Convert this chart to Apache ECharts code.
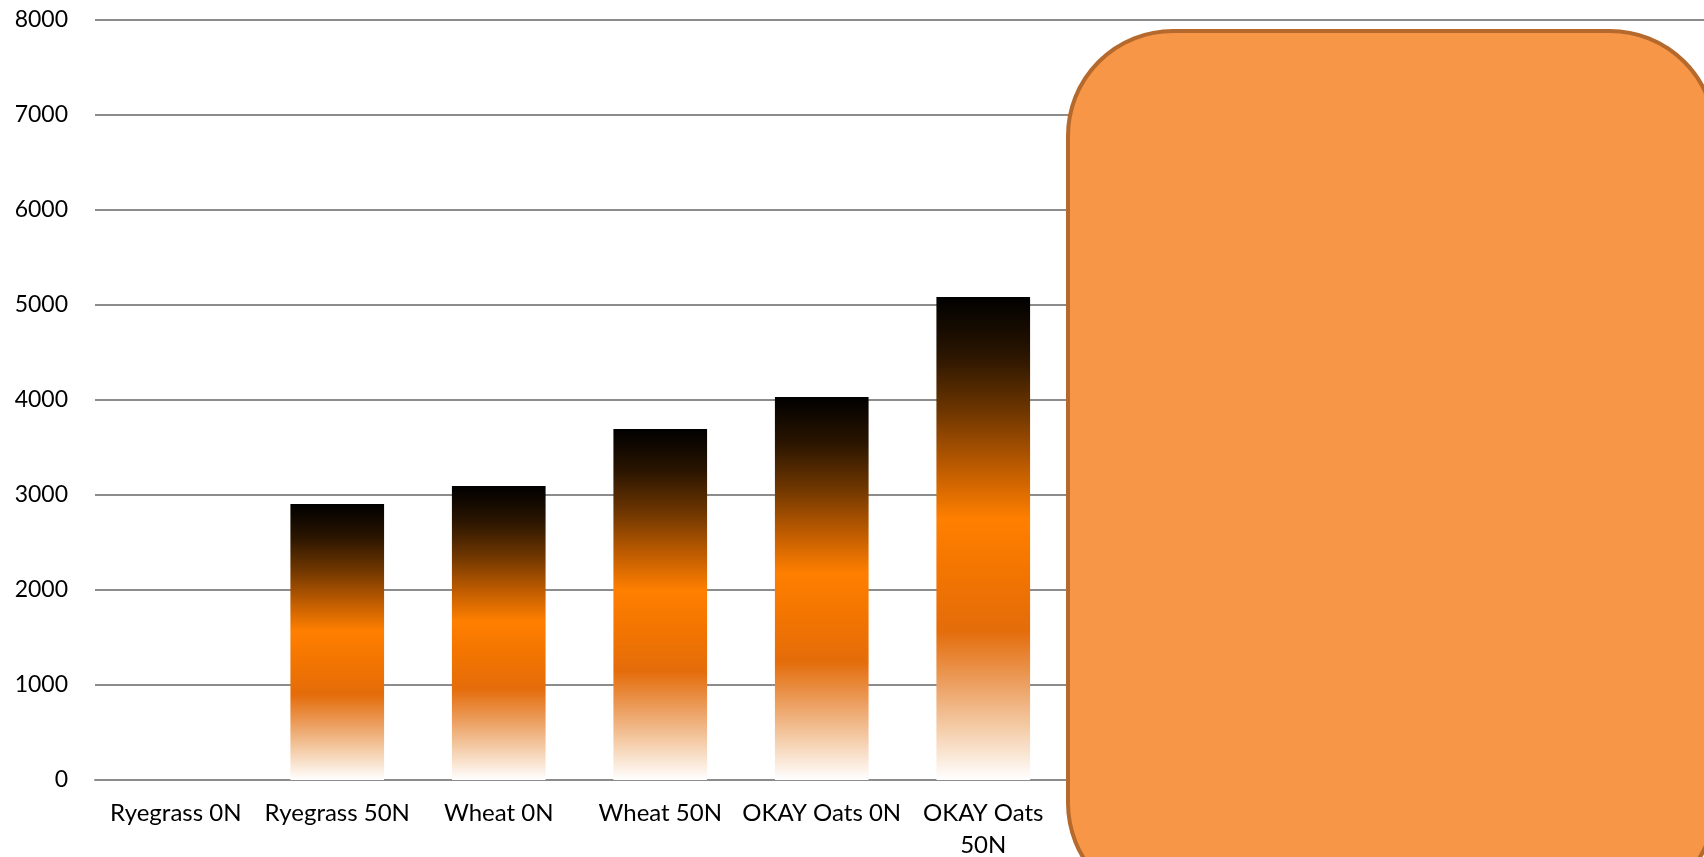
<!DOCTYPE html>
<html>
<head>
<meta charset="utf-8">
<title>Dry matter yield</title>
<script src="https://cdn.jsdelivr.net/npm/echarts@6/dist/echarts.min.js"></script>
<style>
  html, body { margin: 0; padding: 0; background: #ffffff; }
  #chart { width: 1704px; height: 857px; }
</style>
</head>
<body>
<div id="chart"></div>
<script>
// Forage treatments along the bottom axis; the last four slots sit under the callout box
const categories = [
  'Ryegrass 0N', 'Ryegrass 50N', 'Wheat 0N', 'Wheat 50N',
  'OKAY Oats 0N', 'OKAY Oats 50N', '', '', '', ''
];
const yieldValues = [0, 2905, 3095, 3695, 4032, 5084, null, null, null, null];
const yTicks = [0, 1000, 2000, 3000, 4000, 5000, 6000, 7000, 8000];

const FONT = 'Lato, "Open Sans", sans-serif';

// Excel-style preset gradient: black at the top through orange, fading to white at the base
const barFill = new echarts.graphic.LinearGradient(0, 0, 0, 1, [
  { offset: 0.00, color: '#000000' },
  { offset: 0.12, color: '#2a1500' },
  { offset: 0.24, color: '#703700' },
  { offset: 0.35, color: '#bb5a00' },
  { offset: 0.46, color: '#ff7f00' },
  { offset: 0.56, color: '#f47600' },
  { offset: 0.69, color: '#e46c0a' },
  { offset: 0.79, color: '#eb9a58' },
  { offset: 0.89, color: '#f4cba6' },
  { offset: 1.00, color: '#ffffff' }
]);

// Long category names wrap onto a second line at their last space
function wrapLabel(name) {
  if (name.length <= 12) return name;
  const i = name.lastIndexOf(' ');
  return i > 0 ? name.slice(0, i) + '\n' + name.slice(i + 1) : name;
}

const chart = echarts.init(document.getElementById('chart'), null, { renderer: 'canvas' });

chart.setOption({
  animation: false,
  backgroundColor: '#ffffff',
  grid: {
    left: 95, right: -6, top: 20, bottom: 77,
    containLabel: false,
    outerBoundsMode: 'none'
  },
  xAxis: {
    type: 'category',
    data: categories,
    axisLine: { show: true, lineStyle: { color: '#8c8c8c', width: 2 } },
    axisTick: { show: false },
    axisLabel: {
      color: '#000000',
      fontFamily: FONT,
      fontSize: 24,
      margin: 17,
      interval: 0,
      lineHeight: 32,
      formatter: wrapLabel
    },
    splitLine: { show: false }
  },
  yAxis: {
    type: 'value',
    min: yTicks[0],
    max: yTicks[yTicks.length - 1],
    interval: 1000,
    axisLine: { show: false },
    axisTick: { show: false },
    axisLabel: {
      color: '#000000',
      fontFamily: FONT,
      fontSize: 23,
      margin: 27,
      formatter: v => String(v)
    },
    splitLine: { show: true, lineStyle: { color: '#8c8c8c', width: 2 } }
  },
  series: [{
    type: 'bar',
    data: yieldValues,
    barWidth: '58%',
    itemStyle: { color: barFill },
    z: 2
  }],
  graphic: [{
    type: 'rect',
    z: 100,
    shape: { x: 1068, y: 31, width: 647, height: 877, r: 105 },
    style: { fill: '#f79646', stroke: '#b5692d', lineWidth: 4 }
  }]
});
</script>
</body>
</html>
